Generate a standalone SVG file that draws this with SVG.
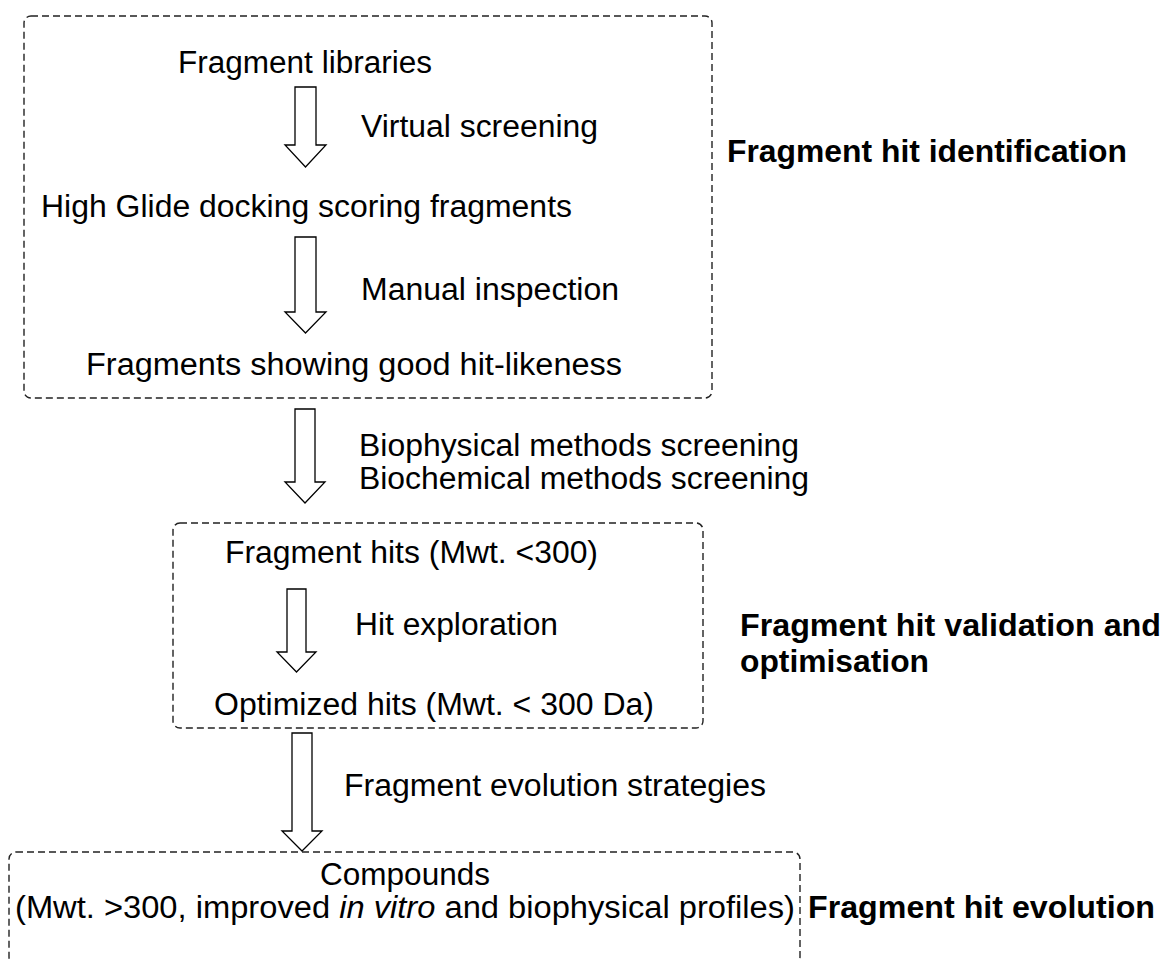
<svg xmlns="http://www.w3.org/2000/svg" width="1163" height="961" viewBox="0 0 1163 961">
<style>
.box{fill:none;stroke:#222;stroke-width:1.4;stroke-dasharray:7 4}
.t{font-family:"Liberation Sans",Arial,sans-serif;font-size:31px;fill:#000}
.b{font-family:"Liberation Sans",Arial,sans-serif;font-size:31px;font-weight:bold;fill:#000}
.arr{fill:#fff;stroke:#000;stroke-width:1.3;stroke-linejoin:miter}
</style>
<rect width="1163" height="961" fill="#fff"/>
<g id="stage1">
<rect class="box" x="24" y="16" width="688" height="382" rx="7"/>
<text class="t" x="178" y="73" textLength="254" lengthAdjust="spacingAndGlyphs">Fragment libraries</text>
<text class="t" x="41" y="217" textLength="531" lengthAdjust="spacingAndGlyphs">High Glide docking scoring fragments</text>
<text class="t" x="86" y="375" textLength="536" lengthAdjust="spacingAndGlyphs">Fragments showing good hit-likeness</text>
</g>
<g id="label1"><text class="b" x="727" y="162" textLength="400" lengthAdjust="spacingAndGlyphs">Fragment hit identification</text></g>
<g id="stage2">
<rect class="box" x="173" y="523" width="530" height="205" rx="7"/>
<text class="t" x="225" y="563" textLength="373" lengthAdjust="spacingAndGlyphs">Fragment hits (Mwt. &lt;300)</text>
<text class="t" x="214" y="715" textLength="440" lengthAdjust="spacingAndGlyphs">Optimized hits (Mwt. &lt; 300 Da)</text>
</g>
<g id="label2">
<text class="b" x="740" y="636" textLength="421" lengthAdjust="spacingAndGlyphs">Fragment hit validation and</text>
<text class="b" x="740" y="672" textLength="189" lengthAdjust="spacingAndGlyphs">optimisation</text>
</g>
<g id="stage3">
<rect class="box" x="9" y="852" width="791" height="112" rx="7"/>
<text class="t" x="320" y="885" textLength="170" lengthAdjust="spacingAndGlyphs">Compounds</text>
<text class="t" x="15" y="918" textLength="780" lengthAdjust="spacingAndGlyphs">(Mwt. &gt;300, improved <tspan font-style="italic">in vitro</tspan> and biophysical profiles)</text>
</g>
<g id="label3"><text class="b" x="808" y="918" textLength="347" lengthAdjust="spacingAndGlyphs">Fragment hit evolution</text></g>
<g id="connectors">
<polygon class="arr" points="295,87 316,87 316,145 326,145 305.5,167 285,145 295,145"/>
<text class="t" x="361" y="137" textLength="237" lengthAdjust="spacingAndGlyphs">Virtual screening</text>
<polygon class="arr" points="295,237 316,237 316,312 326,312 305.5,333 285,312 295,312"/>
<text class="t" x="361" y="300" textLength="258" lengthAdjust="spacingAndGlyphs">Manual inspection</text>
<polygon class="arr" points="295,409 315,409 315,482 325,482 305,503 285,482 295,482"/>
<text class="t" x="359" y="456" textLength="440" lengthAdjust="spacingAndGlyphs">Biophysical methods screening</text>
<text class="t" x="359" y="489" textLength="450" lengthAdjust="spacingAndGlyphs">Biochemical methods screening</text>
<polygon class="arr" points="287,589 306,589 306,652 316,652 296.5,672 277,652 287,652"/>
<text class="t" x="355" y="635" textLength="203" lengthAdjust="spacingAndGlyphs">Hit exploration</text>
<polygon class="arr" points="292,733 312,733 312,831 322,831 302,851 282,831 292,831"/>
<text class="t" x="344" y="796" textLength="422" lengthAdjust="spacingAndGlyphs">Fragment evolution strategies</text>
</g>
</svg>
